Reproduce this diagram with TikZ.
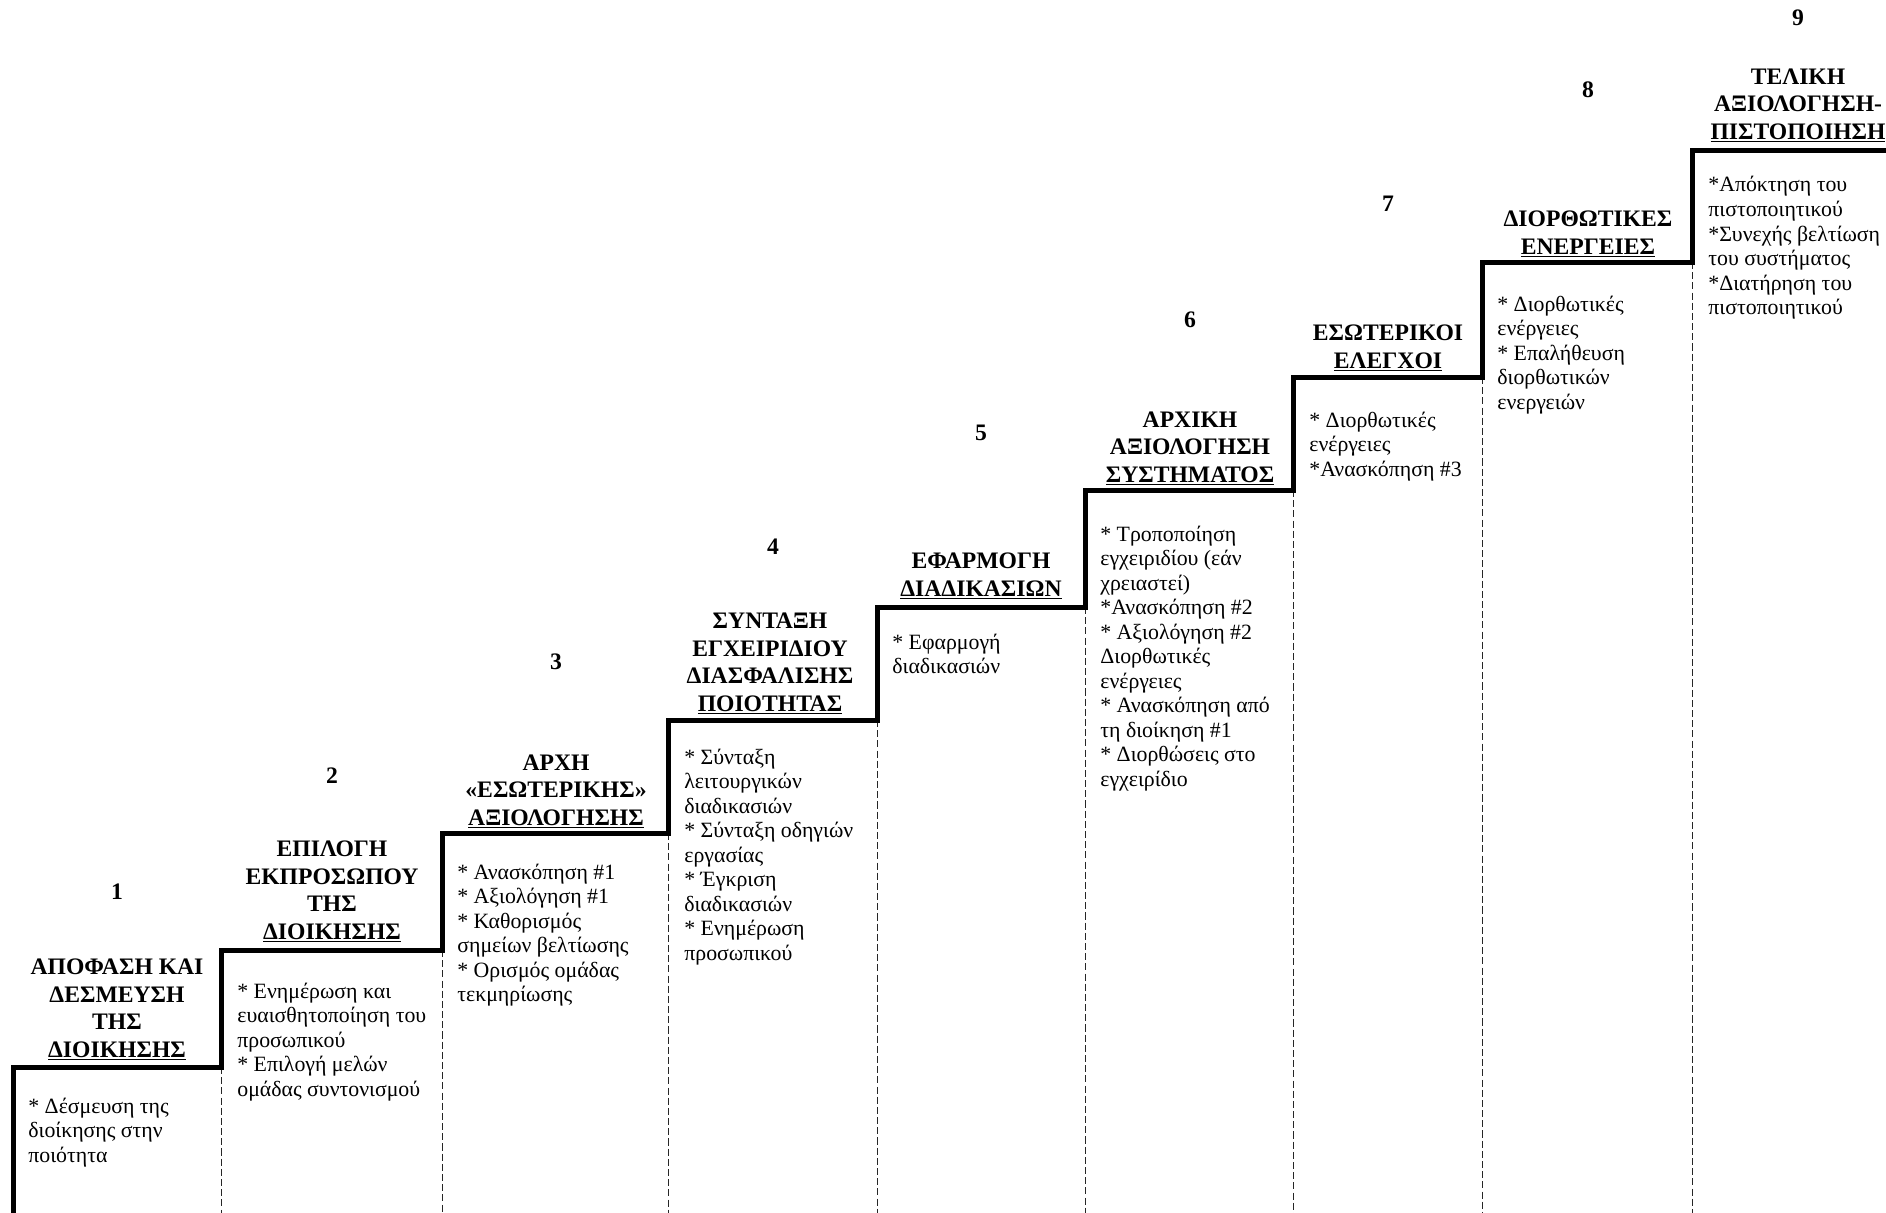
\documentclass[tikz,border=0pt]{standalone}
\usepackage{fontspec}
\setmainfont{Liberation Serif}
\begin{document}
\begin{tikzpicture}[x=0.55pt,y=-0.55pt,
  stair/.style={line width=2.75pt, line join=miter},
  guide/.style={line width=0.55pt, dash pattern=on 3.9pt off 1.7pt, black!85},
  numlbl/.style={inner sep=0pt, anchor=base, font=\fontsize{13}{15}\selectfont\bfseries},
  ttl/.style={inner sep=0pt, anchor=base, font=\fontsize{13}{15.1}\selectfont\bfseries},
  body/.style={inner sep=0pt, anchor=base west, font=\fontsize{12}{13.5}\selectfont}]
\useasboundingbox (0,0) rectangle (1886,1213);
% staircase corners
\coordinate (b0) at (13,1213);
\coordinate (c1) at (13,1067);   \coordinate (d1) at (221,1067);
\coordinate (c2) at (221,950);   \coordinate (d2) at (442,950);
\coordinate (c3) at (442,833);   \coordinate (d3) at (668,833);
\coordinate (c4) at (668,720);   \coordinate (d4) at (877,720);
\coordinate (c5) at (877,607);   \coordinate (d5) at (1085,607);
\coordinate (c6) at (1085,490);  \coordinate (d6) at (1293,490);
\coordinate (c7) at (1293,377);  \coordinate (d7) at (1482,377);
\coordinate (c8) at (1482,262);  \coordinate (d8) at (1692,262);
\coordinate (c9) at (1692,150);  \coordinate (d9) at (1886,150);
% bottom ends of guides
\coordinate (e1) at (221,1213);
\coordinate (e2) at (442,1213);
\coordinate (e3) at (668,1213);
\coordinate (e4) at (877,1213);
\coordinate (e5) at (1085,1213);
\coordinate (e6) at (1293,1213);
\coordinate (e7) at (1482,1213);
\coordinate (e8) at (1692,1213);
% dashed guides
\foreach \i in {1,...,8} \draw[guide] (d\i) -- (e\i);
% staircase
\draw[stair] (b0) -- (c1) -- (d1) -- (c2) -- (d2) -- (c3) -- (d3) -- (c4) -- (d4) -- (c5) -- (d5) -- (c6) -- (d6) -- (c7) -- (d7) -- (c8) -- (d8) -- (c9) -- (d9);
% numbers
\node[numlbl] (n1) at (117,899) {1};
\node[numlbl] (n2) at (332,783) {2};
\node[numlbl] (n3) at (556,669) {3};
\node[numlbl] (n4) at (773,554) {4};
\node[numlbl] (n5) at (981,440) {5};
\node[numlbl] (n6) at (1190,327) {6};
\node[numlbl] (n7) at (1388,211) {7};
\node[numlbl] (n8) at (1588,97) {8};
\node[numlbl] (n9) at (1798,26) {9};
% titles
\node[ttl] (t1) at (117,1057) {\begin{tabular}[b]{@{}c@{}}ΑΠΟΦΑΣΗ ΚΑΙ\\ΔΕΣΜΕΥΣΗ\\ΤΗΣ\\\underline{ΔΙΟΙΚΗΣΗΣ}\end{tabular}};
\node[ttl] (t2) at (332,939) {\begin{tabular}[b]{@{}c@{}}ΕΠΙΛΟΓΗ\\ΕΚΠΡΟΣΩΠΟΥ\\ΤΗΣ\\\underline{ΔΙΟΙΚΗΣΗΣ}\end{tabular}};
\node[ttl] (t3) at (556,825) {\begin{tabular}[b]{@{}c@{}}ΑΡΧΗ\\«ΕΣΩΤΕΡΙΚΗΣ»\\\underline{ΑΞΙΟΛΟΓΗΣΗΣ}\end{tabular}};
\node[ttl] (t4) at (770,711) {\begin{tabular}[b]{@{}c@{}}ΣΥΝΤΑΞΗ\\ΕΓΧΕΙΡΙΔΙΟΥ\\ΔΙΑΣΦΑΛΙΣΗΣ\\\underline{ΠΟΙΟΤΗΤΑΣ}\end{tabular}};
\node[ttl] (t5) at (981,596) {\begin{tabular}[b]{@{}c@{}}ΕΦΑΡΜΟΓΗ\\\underline{ΔΙΑΔΙΚΑΣΙΩΝ}\end{tabular}};
\node[ttl] (t6) at (1190,482) {\begin{tabular}[b]{@{}c@{}}ΑΡΧΙΚΗ\\ΑΞΙΟΛΟΓΗΣΗ\\\underline{ΣΥΣΤΗΜΑΤΟΣ}\end{tabular}};
\node[ttl] (t7) at (1388,368) {\begin{tabular}[b]{@{}c@{}}ΕΣΩΤΕΡΙΚΟΙ\\\underline{ΕΛΕΓΧΟΙ}\end{tabular}};
\node[ttl] (t8) at (1588,254) {\begin{tabular}[b]{@{}c@{}}ΔΙΟΡΘΩΤΙΚΕΣ\\\underline{ΕΝΕΡΓΕΙΕΣ}\end{tabular}};
\node[ttl] (t9) at (1798,139) {\begin{tabular}[b]{@{}c@{}}ΤΕΛΙΚΗ\\ΑΞΙΟΛΟΓΗΣΗ-\\\underline{ΠΙΣΤΟΠΟΙΗΣΗ}\end{tabular}};
% bodies
\node[body] (p1) at (28,1113) {\begin{tabular}[t]{@{}l@{}}* Δέσμευση της\\διοίκησης στην\\ποιότητα\end{tabular}};
\node[body] (p2) at (237,998) {\begin{tabular}[t]{@{}l@{}}* Ενημέρωση και\\ευαισθητοποίηση του\\προσωπικού\\{}* Επιλογή μελών\\ομάδας συντονισμού\end{tabular}};
\node[body] (p3) at (457,879) {\begin{tabular}[t]{@{}l@{}}* Ανασκόπηση \#1\\{}* Αξιολόγηση \#1\\{}* Καθορισμός\\σημείων βελτίωσης\\{}* Ορισμός ομάδας\\τεκμηρίωσης\end{tabular}};
\node[body] (p4) at (684,764) {\begin{tabular}[t]{@{}l@{}}* Σύνταξη\\λειτουργικών\\διαδικασιών\\{}* Σύνταξη οδηγιών\\εργασίας\\{}* Έγκριση\\διαδικασιών\\{}* Ενημέρωση\\προσωπικού\end{tabular}};
\node[body] (p5) at (892,649) {\begin{tabular}[t]{@{}l@{}}* Εφαρμογή\\διαδικασιών\end{tabular}};
\node[body] (p6) at (1100,541) {\begin{tabular}[t]{@{}l@{}}* Τροποποίηση\\εγχειριδίου (εάν\\χρειαστεί)\\{}*Ανασκόπηση \#2\\{}* Αξιολόγηση \#2\\Διορθωτικές\\ενέργειες\\{}* Ανασκόπηση από\\τη διοίκηση \#1\\{}* Διορθώσεις στο\\εγχειρίδιο\end{tabular}};
\node[body] (p7) at (1309,427) {\begin{tabular}[t]{@{}l@{}}* Διορθωτικές\\ενέργειες\\{}*Ανασκόπηση \#3\end{tabular}};
\node[body] (p8) at (1497,311) {\begin{tabular}[t]{@{}l@{}}* Διορθωτικές\\ενέργειες\\{}* Επαλήθευση\\διορθωτικών\\ενεργειών\end{tabular}};
\node[body] (p9) at (1708,192) {\begin{tabular}[t]{@{}l@{}}*Απόκτηση του\\πιστοποιητικού\\{}*Συνεχής βελτίωση\\του συστήματος\\{}*Διατήρηση του\\πιστοποιητικού\end{tabular}};
\end{tikzpicture}
\end{document}
